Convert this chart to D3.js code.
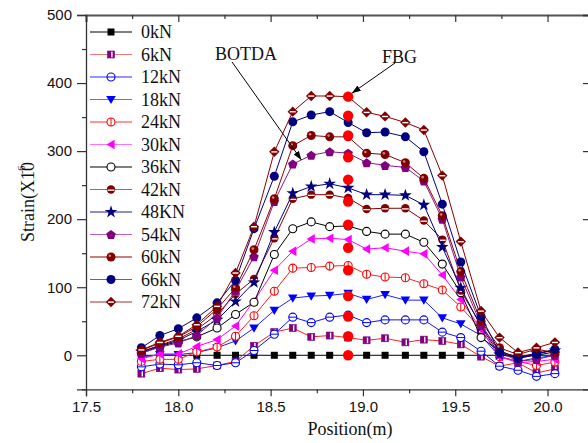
<!DOCTYPE html>
<html>
<head>
<meta charset="utf-8">
<script src="https://cdn.jsdelivr.net/npm/d3@7"></script>
<style>
  html, body { margin: 0; padding: 0; background: #fff; }
  svg { display: block; }
</style>
</head>
<body>
<div id="chart"></div>
<script>
// ---------- data ----------
const positions = [17.80,17.90,18.00,18.10,18.21,18.31,18.41,18.52,18.62,18.72,18.82,18.92,19.02,19.12,19.23,19.33,19.43,19.53,19.64,19.74,19.84,19.94,20.04];
const loadLabels = ["0kN","6kN","12kN","18kN","24kN","30kN","36kN","42kN","48KN","54kN","60kN","66kN","72kN"];
const strain0kN  = [0,0,0,0,0,0,0,0,0,0,0,0,0,0,0,0,0,0,0,0,0,0,0];
const strain6kN  = [-27,-19,-21,-20,-15,-9,14,34,40,27,29,26,22,25,19,23,21,16,-2,-16,-11,-26,-20];
const strain12kN = [-17,-13,-14,-11,-15,-11,7,31,56,48,56,59,48,52,52,52,34,26,6,-16,-22,-31,-27];
const strain18kN = [-3,1,1,4,11,21,40,66,84,87,88,91,82,89,81,81,55,46,29,-2,-9,-4,0];
const strain24kN = [-9,-6,-6,5,12,28,58,94,128,129,131,132,119,115,114,105,96,71,38,-2,-9,-15,-10];
const strain30kN = [-5,2,2,13,23,43,80,125,153,171,172,170,156,158,153,149,118,82,38,-2,-11,-9,-6];
const strain36kN = [3,13,20,27,40,60,78,148,186,196,189,190,182,178,178,166,134,92,26,6,-3,0,5];
const strain42kN = [5,15,24,38,60,90,112,172,230,236,236,231,215,216,216,198,170,95,44,5,-3,3,8];
const strain48kN = [5,14,22,35,52,79,107,181,238,248,252,246,236,236,235,221,159,99,42,1,-4,3,7];
const strain54kN = [3,12,18,29,55,95,145,226,281,294,299,297,283,279,276,256,200,115,45,6,-9,-6,0];
const strain60kN = [7,18,27,42,68,99,155,230,308,323,321,321,297,295,283,260,205,123,50,11,1,9,4];
const strain66kN = [11,29,39,55,77,110,186,263,343,353,358,342,327,328,321,299,222,137,57,4,-5,1,9];
const strain72kN = [8,19,28,45,72,121,189,299,358,381,381,380,357,351,342,331,264,167,65,26,4,11,19];
const fbgPosition = 18.92;
const fbgValues = [0,28,57,87,125,158,192,226,258,291,323,352,380];
const xTicks = [17.5,18.0,18.5,19.0,19.5,20.0];
const yTicks = [0,100,200,300,400,500];

// ---------- styles ----------
const seriesValues = [strain0kN,strain6kN,strain12kN,strain18kN,strain24kN,strain30kN,strain36kN,strain42kN,strain48kN,strain54kN,strain60kN,strain66kN,strain72kN];
const lineColors = ["#000000","#ff2020","#1010ff","#2020ff","#ff2020","#ff00ff","#000000","#8b0000","#000080","#8a1a8a","#8b0000","#000080","#8b0000"];
const legendLineColors = ["#000000","#f07a7a","#2a2aff","#6a6aff","#ff3030","#ff70ff","#000000","#b06060","#202090","#c060c0","#900000","#6060b0","#a03030"];
const markerTypes = ["square","halfsquare","circleH","triDown","circleV","triLeft","circleOpen","circleHalf","star","pentagon","circleShine","circleFill","diamondHalf"];
const markerColors = ["#000000","#800080","#0000ff","#0000ff","#ff0000","#ff00ff","#000000","#800000","#000080","#800080","#800000","#000080","#800000"];

const W = 588, H = 443;
const svg = d3.select("#chart").append("svg").attr("width", W).attr("height", H);

const x = d3.scaleLinear().domain([17.5, 20.23]).range([86, 590]);
const y = d3.scaleLinear().domain([-50, 500]).range([389.3, 15]);

function drawMarker(g, type, c) {
  switch (type) {
    case "square":
      g.append("rect").attr("x",-3.5).attr("y",-3.5).attr("width",7).attr("height",7).attr("fill",c);
      break;
    case "halfsquare":
      g.append("rect").attr("x",-3.5).attr("y",-3.5).attr("width",7).attr("height",7).attr("fill",c).attr("stroke",c).attr("stroke-width",0.6);
      g.append("rect").attr("x",0.2).attr("y",-2.8).attr("width",1.4).attr("height",5.6).attr("fill","#fff");
      break;
    case "circleH":
      g.append("circle").attr("r",4).attr("fill","#fff").attr("stroke",c).attr("stroke-width",1.1);
      g.append("line").attr("x1",-4).attr("x2",4).attr("stroke",c).attr("stroke-width",1);
      break;
    case "circleV":
      g.append("circle").attr("r",4).attr("fill","#fff").attr("stroke",c).attr("stroke-width",1.1);
      g.append("line").attr("y1",-4).attr("y2",4).attr("stroke",c).attr("stroke-width",1);
      break;
    case "triDown":
      g.append("path").attr("d","M-4.8,-3.6L4.8,-3.6L0,4.6Z").attr("fill",c);
      break;
    case "triLeft":
      g.append("path").attr("d","M-4.6,0L3.6,-4.8L3.6,4.8Z").attr("fill",c);
      break;
    case "circleOpen":
      g.append("circle").attr("r",4).attr("fill","#fff").attr("stroke",c).attr("stroke-width",1.1);
      break;
    case "circleHalf":
      g.append("circle").attr("r",4.2).attr("fill",c);
      g.append("rect").attr("x",-3.4).attr("y",0).attr("width",6.8).attr("height",1.3).attr("fill","#fff");
      break;
    case "star":
      g.append("path").attr("d", d3.symbol(d3.symbolStar, 50)()).attr("fill",c);
      break;
    case "pentagon": {
      const r = 5, pts = d3.range(5).map(i => { const a = -Math.PI/2 + i*2*Math.PI/5; return [r*Math.cos(a), r*Math.sin(a)+0.5]; });
      g.append("path").attr("d","M"+pts.join("L")+"Z").attr("fill",c);
      break; }
    case "circleShine":
      g.append("circle").attr("r",4.5).attr("fill",c);
      g.append("circle").attr("cx",-1.2).attr("cy",-1.2).attr("r",1.3).attr("fill","#d08080");
      break;
    case "circleFill":
      g.append("circle").attr("r",4.5).attr("fill",c);
      break;
    case "diamondHalf":
      g.append("path").attr("d","M0,-5.2L5.2,0L0,5.2L-5.2,0Z").attr("fill",c);
      g.append("rect").attr("x",-3).attr("y",-0.6).attr("width",6).attr("height",1.4).attr("fill","#fff");
      break;
  }
}

// ---------- axes / frame ----------
const axColor = "#333";
const axisFont = "Liberation Sans, Arial, sans-serif";
const serif = "Liberation Serif, Times New Roman, serif";

// bottom axis
const xMinor = d3.range(17.5, 20.26, 0.25).filter(v => Math.abs((v*2) - Math.round(v*2)) > 1e-6);
const gx = svg.append("g").attr("transform", `translate(0,${y(-50)})`)
  .call(d3.axisBottom(x).tickValues(xTicks).tickFormat(d3.format(".1f")).tickSize(7).tickPadding(5));
gx.selectAll("text").attr("font-family", axisFont).attr("font-size", 15).attr("fill","#111");
gx.select(".domain").attr("stroke", axColor).attr("stroke-width",1.3);
gx.selectAll(".tick line").attr("stroke", axColor).attr("stroke-width",1.2);
svg.append("g").attr("transform", `translate(0,${y(-50)})`)
  .call(d3.axisBottom(x).tickValues(xMinor).tickFormat("").tickSize(4))
  .call(g => { g.select(".domain").remove(); g.selectAll("line").attr("stroke", axColor).attr("stroke-width",1.2); });

// top axis
svg.append("g").attr("transform", `translate(0,${y(500)})`)
  .call(d3.axisBottom(x).tickValues(xTicks).tickFormat("").tickSize(7))
  .call(g => { g.select(".domain").attr("stroke", "#555").attr("stroke-width",2); g.selectAll("line").attr("stroke", axColor).attr("stroke-width",1.2); });
svg.append("g").attr("transform", `translate(0,${y(500)})`)
  .call(d3.axisBottom(x).tickValues(xMinor).tickFormat("").tickSize(4))
  .call(g => { g.select(".domain").remove(); g.selectAll("line").attr("stroke", axColor).attr("stroke-width",1.2); });

// left axis
const yMinor = d3.range(-50, 501, 100);
const gy = svg.append("g").attr("transform", `translate(${x(17.5)},0)`)
  .call(d3.axisLeft(y).tickValues(yTicks).tickSize(9).tickPadding(5));
gy.selectAll("text").attr("font-family", axisFont).attr("font-size", 15).attr("fill","#111");
gy.select(".domain").attr("stroke", axColor).attr("stroke-width",1.3);
gy.selectAll(".tick line").attr("stroke", axColor).attr("stroke-width",1.2);
svg.append("g").attr("transform", `translate(${x(17.5)},0)`)
  .call(d3.axisLeft(y).tickValues(yMinor).tickFormat("").tickSize(4))
  .call(g => { g.select(".domain").remove(); g.selectAll("line").attr("stroke", axColor).attr("stroke-width",1.2); });

// right axis
svg.append("g").attr("transform", `translate(${x(20.23)},0)`)
  .call(d3.axisLeft(y).tickValues(yTicks).tickFormat("").tickSize(7))
  .call(g => { g.select(".domain").attr("stroke", axColor).attr("stroke-width",1.3); g.selectAll("line").attr("stroke", axColor).attr("stroke-width",1.2); });

// axis titles
svg.append("text").attr("x", 350).attr("y", 435).attr("text-anchor","middle")
  .attr("font-family", serif).attr("font-size", 18).attr("fill","#111").text("Position(m)");
const yt = svg.append("text").attr("transform","translate(34,242) rotate(-90)")
  .attr("font-family", serif).attr("font-size", 18).attr("fill","#111");
yt.append("tspan").text("Strain(X10");
yt.append("tspan").attr("dx", -12).attr("dy", -9).attr("font-size", 10).text("-6");

// ---------- series ----------
const line = d3.line().x((d,i) => x(positions[i])).y(d => y(d));
seriesValues.forEach((vals, k) => {
  const g = svg.append("g").attr("class","series");
  g.append("path").datum(vals).attr("d", line).attr("fill","none")
    .attr("stroke", lineColors[k]).attr("stroke-width", 1);
  vals.forEach((v, i) => {
    const m = g.append("g").attr("transform", `translate(${x(positions[i])},${y(v)})`);
    drawMarker(m, markerTypes[k], markerColors[k]);
  });
});

// FBG points
svg.append("g").selectAll("circle").data(fbgValues).join("circle")
  .attr("cx", x(fbgPosition)).attr("cy", d => y(d)).attr("r", 5.2).attr("fill", "#ff0000");

// ---------- legend ----------
const legend = svg.append("g");
loadLabels.forEach((lab, k) => {
  const cy = 32 + k * 22.5;
  legend.append("line").attr("x1", 90).attr("x2", 132).attr("y1", cy).attr("y2", cy)
    .attr("stroke", legendLineColors[k]).attr("stroke-width", 1.2);
  const m = legend.append("g").attr("transform", `translate(111,${cy})`);
  drawMarker(m, markerTypes[k], markerColors[k]);
  legend.append("text").attr("x", 141).attr("y", cy + 6).attr("font-family", serif)
    .attr("font-size", 18).attr("fill", "#111").text(lab);
});

// ---------- annotations ----------
svg.append("defs").append("marker").attr("id","arr").attr("viewBox","0 0 10 10")
  .attr("refX",10).attr("refY",5).attr("markerWidth",9).attr("markerHeight",9)
  .attr("markerUnits","userSpaceOnUse").attr("orient","auto")
  .append("path").attr("d","M0,1.5L10,5L0,8.5Z").attr("fill","#000");

svg.append("text").attr("x", x(18.199)).attr("y", y(434)).attr("font-family", serif)
  .attr("font-size", 18).attr("fill","#111").text("BOTDA");
svg.append("line").attr("x1", x(18.291)).attr("y1", y(431)).attr("x2", x(18.667)).attr("y2", y(287))
  .attr("stroke","#000").attr("stroke-width",1).attr("marker-end","url(#arr)");

svg.append("text").attr("x", x(19.103)).attr("y", y(429)).attr("font-family", serif)
  .attr("font-size", 18).attr("fill","#111").text("FBG");
svg.append("line").attr("x1", x(19.174)).attr("y1", y(429.5)).attr("x2", x(18.94)).attr("y2", y(385))
  .attr("stroke","#000").attr("stroke-width",1).attr("marker-end","url(#arr)");
</script>
</body>
</html>
